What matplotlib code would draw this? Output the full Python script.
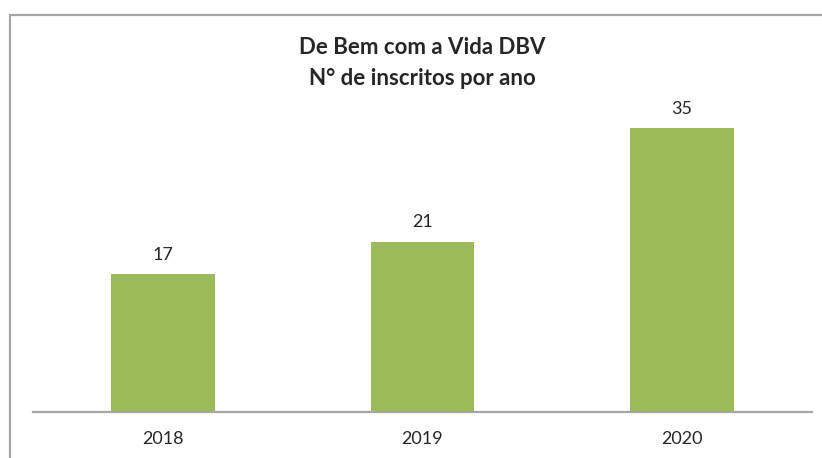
import matplotlib.pyplot as plt
from matplotlib.patches import Rectangle

anos = ['2018', '2019', '2020']
inscritos = [17, 21, 35]

W, H = 822, 458
plt.rcParams['font.family'] = ['Lato', 'DejaVu Sans']

fig = plt.figure(figsize=(W / 100, H / 100), dpi=100)

# chart border (right/bottom edges fall outside the image)
fig.patches.append(Rectangle((9.5 / W, -0.1), 1.2, (H - 14.5) / H + 0.1,
                             transform=fig.transFigure, fill=False,
                             edgecolor='#a6a6a6', linewidth=1.6))

ax = fig.add_axes([33 / W, 46.5 / H, 779 / W, 311.5 / H])
x = range(len(anos))
bars = ax.bar(x, inscritos, width=0.4, color='#9bbb59')

for b, v in zip(bars, inscritos):
    ax.annotate(str(v), (b.get_x() + b.get_width() / 2, v),
                xytext=(0, 8), textcoords='offset points',
                ha='center', va='bottom', fontsize=13, color='#262626')

ax.set_xlim(-0.5, 2.5)
ax.set_ylim(0, 38.5)
ax.set_xticks(list(x))
ax.set_xticklabels(anos, fontsize=13, color='#262626')
ax.tick_params(axis='x', length=0, pad=14)
ax.set_yticks([])
for s in ['top', 'right', 'left']:
    ax.spines[s].set_visible(False)
ax.spines['bottom'].set_color('#a6a6a6')
ax.spines['bottom'].set_linewidth(1.6)

fig.text((33 + 779 / 2) / W, 1 - 48 / H, 'De Bem com a Vida DBV',
         ha='center', va='center', fontsize=16, fontweight='bold', color='#262626')
fig.text((33 + 779 / 2) / W, 1 - 78 / H, 'N° de inscritos por ano',
         ha='center', va='center', fontsize=16, fontweight='bold', color='#262626')

fig.savefig('out.png', dpi=100)
